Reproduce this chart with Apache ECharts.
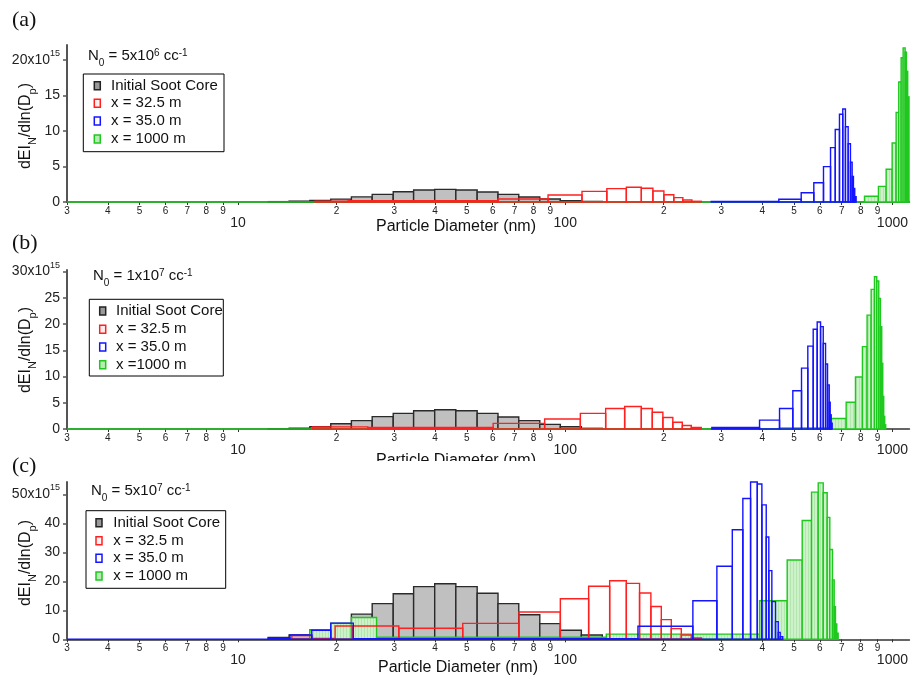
<!DOCTYPE html>
<html><head><meta charset="utf-8">
<script src="https://cdn.jsdelivr.net/npm/echarts@6/dist/echarts.min.js"></script>
<style>html,body{margin:0;padding:0;background:#fff}#c{width:911px;height:676px}</style>
</head><body><div id="c"></div>
<script>
// ---------- tick labels ----------
const minorTickValues = [3,4,5,6,7,8,9,20,30,40,50,60,70,80,90,200,300,400,500,600,700,800,900];
const minorTickLabels = ['3','4','5','6','7','8','9','2','3','4','5','6','7','8','9','2','3','4','5','6','7','8','9'];
const majorTickValues = [10,100,1000];
const majorTickLabels = ['10','100','1000'];
const yTicksA = [0,5,10,15,20];
const yLabelsA = ['0','5','10','15','{n|20x10}{sup|15}'];
const yTicksB = [0,5,10,15,20,25,30];
const yLabelsB = ['0','5','10','15','20','25','{n|30x10}{sup|15}'];
const yTicksC = [0,10,20,30,40,50];
const yLabelsC = ['0','10','20','30','40','{n|50x10}{sup|15}'];
const panelLetters = ['(a)','(b)','(c)'];
const n0Texts = ['{n|N}{sub|0}{n| = 5x10}{sup|6}{n| cc}{sup|-1}',
                 '{n|N}{sub|0}{n| = 1x10}{sup|7}{n| cc}{sup|-1}',
                 '{n|N}{sub|0}{n| = 5x10}{sup|7}{n| cc}{sup|-1}'];
const legendLabels = [
  ['Initial Soot Core','x = 32.5 m','x = 35.0 m','x = 1000 m'],
  ['Initial Soot Core','x = 32.5 m','x = 35.0 m','x =1000 m'],
  ['Initial Soot Core','x = 32.5 m','x = 35.0 m','x = 1000 m']
];
const xName = 'Particle Diameter (nm)';
const yName = '{n|dEI}{sub|N}{n|/dln(D}{sub|p}{n|)}';

// ---------- data: bin edges (nm) and heights (x10^15) ----------
const grayEdges = [12.36,14.32,16.57,19.2,22.2,25.7,29.8,34.4,39.9,46.3,53.8,62.3,72.1,83.6,96.6,112.0,129.8];
const grayA = [0.05,0.12,0.22,0.40,0.72,1.08,1.45,1.69,1.78,1.69,1.41,1.08,0.70,0.42,0.20,0.08];
const grayB = [0.05,0.15,0.44,1.00,1.60,2.35,2.98,3.48,3.67,3.48,2.98,2.28,1.60,0.89,0.44,0.13];
const grayC = [0.6,1.5,3.2,5.5,8.7,12.3,15.7,18.2,19.2,18.2,15.9,12.3,8.5,5.4,3.1,1.5];

const redEdgesA = [17.2,21.7,62.3,88.6,112.5,134,153.7,170.8,185.3,200.2,214.7,228.8,243.8,260.4];
const redA = [0.10,0.19,0.42,0.99,1.50,1.88,2.07,1.93,1.55,1.03,0.61,0.28,0.10];
const redEdgesB = [16.9,24.9,60.2,86.5,111.2,132.9,151.9,170.8,184.5,198.8,213.2,227.9,242.8,260.4];
const redB = [0.40,0.28,1.08,1.90,2.97,3.92,4.30,3.92,3.20,2.20,1.30,0.68,0.30];
const redEdgesC = [14.6,16.8,19.8,22.4,31.0,48.6,72.2,96.6,117.9,136.7,153.7,168.7,182.7,196.6,210.9,226.3,242.8,261.0];
const redC = [1.3,0.3,4.6,4.6,3.8,5.5,9.4,14.0,18.3,20.2,19.3,16.0,11.3,6.8,3.7,1.5,0.5];

const blueEdgesA = [279.4,449.5,526.2,575.1,615.6,646.9,668.7,688.9,705.0,718.4,732.3,744.2,753.1,760.0,767.0,774.6];
const blueA = [0.06,0.38,1.31,2.72,4.98,7.65,10.2,12.35,13.1,10.6,8.2,5.6,3.6,1.9,0.75];
const blueEdgesB = [280.6,392.5,451.8,496.1,527.4,551.3,572.6,588.9,603.0,614.5,624.6,633.4,641.0,645.4,650.0,654.5];
const blueB = [0.3,1.7,3.9,7.3,11.6,15.8,19.0,20.4,19.5,16.3,12.4,8.4,5.1,2.7,1.1];
const blueEdgesC = [3,12.36,14.4,16.8,19.2,22.5,166.8,245.5,290.7,324.0,349.0,368.5,386.3,399.0,411.4,419.0,428.0,439.2,447.7,453.9,462.2];
const blueC = [0,0.45,1.5,3.1,5.6,0.2,4.5,13.3,25.2,37.8,48.6,54.3,53.6,46.4,35.3,23.7,13.0,6.1,2.4,0.9];

const greenEdgesA = [3,821.5,906.3,956.7,998.0,1026.4,1045.5,1063.3,1078.3,1093.6,1103.6,1113.6,1123.9];
const greenA = [0,0.8,2.2,4.6,8.3,12.6,16.9,20.3,21.7,21.1,18.4,14.8];
const greenEdgesB = [3,451.8,642.2,722.1,771.0,809.7,836.7,860.9,881.2,895.5,908.3,919.1,927.6,934.2,940.6,947.3,953.9];
const greenB = [0,0.2,2.0,5.1,9.9,15.7,21.7,26.6,29.0,28.2,24.9,19.5,12.5,6.2,2.4,0.8];
const greenEdgesC = [16.57,19.2,22.2,26.5,133.5,392.5,476.8,529.9,565.9,593.2,614.5,631.9,643.6,655.8,663.7,669.8,676.0,682.6];
const greenC = [3.1,5.5,7.5,0.7,1.8,13.3,27.4,41.0,50.8,54.0,50.6,42.1,31.0,20.5,11.3,5.3,2.1];

// ---------- build ----------
const FONT = '"Liberation Sans", Arial, sans-serif';
const L = Math.log10;
const X_MIN = 3, X_MAX = 1127;
const grids = [
  {left:67, top:45, width:843, height:157},
  {left:67, top:270, width:843, height:159},
  {left:67, top:482, width:843, height:157.3}
];
const yMax = [22.1, 30.3, 54.3];
const yTicks = [yTicksA, yTicksB, yTicksC];
const yLabels = [yLabelsA, yLabelsB, yLabelsC];
const panels = [
  {gray:grayA, redE:redEdgesA, red:redA, blueE:blueEdgesA, blue:blueA, greenE:greenEdgesA, green:greenA},
  {gray:grayB, redE:redEdgesB, red:redB, blueE:blueEdgesB, blue:blueB, greenE:greenEdgesB, green:greenB},
  {gray:grayC, redE:redEdgesC, red:redC, blueE:blueEdgesC, blue:blueC, greenE:greenEdgesC, green:greenC}
];

const allTickVals = minorTickValues.concat(majorTickValues).sort((a,b)=>a-b);
const allTickLog = allTickVals.map(L);
const minorLog = minorTickValues.map(L);
const majorLog = majorTickValues.map(L);
function findLabel(v, vals, labs){
  for (let i=0;i<vals.length;i++) if (Math.abs(L(vals[i])-v)<1e-6) return labs[i];
  return '';
}
function bins(edges, vals){ return vals.map((v,i)=>[L(edges[i]), L(edges[i+1]), v]); }

// light green fill with fine vertical hatch, as in the reference
const hatch = document.createElement('canvas');
hatch.width = 3; hatch.height = 4;
(function(){ const c = hatch.getContext('2d');
  c.fillStyle = '#cdf2c9'; c.fillRect(0,0,3,4);
  c.fillStyle = '#b3e6ae'; c.fillRect(1,0,1,4); })();
const greenFill = {image: hatch, repeat: 'repeat'};

const styles = {
  gray:  {fill:'#c0c0c0', stroke:'#2a2a2a', lineWidth:1.4},
  green: {fill:greenFill, stroke:'#1ec81e', lineWidth:1.4},
  red:   {fill:'none', stroke:'#ff2020', lineWidth:1.4},
  blue:  {fill:'none', stroke:'#1414ff', lineWidth:1.4}
};
function renderBars(st){
  return function(params, api){
    const p0 = api.coord([api.value(0), api.value(2)]);
    const p1 = api.coord([api.value(1), 0]);
    return {type:'rect', shape:{x:p0[0], y:p0[1], width:p1[0]-p0[0], height:p1[1]-p0[1]}, style: st};
  };
}

const xAxes = [], yAxes = [], series = [];
grids.forEach((g, i) => {
  xAxes.push({
    gridIndex:i, type:'value', position:'bottom', min:L(X_MIN), max:L(X_MAX),
    axisLine:{show:true, onZero:false, lineStyle:{color:'#333', width:1.5}},
    splitLine:{show:false},
    axisTick:{show:true, customValues: allTickLog, length:3, lineStyle:{color:'#333', width:1}},
    axisLabel:{customValues: minorLog, formatter: v => findLabel(v, minorTickValues, minorTickLabels),
      fontSize:10, margin:4, color:'#222', fontFamily:FONT}
  });
  xAxes.push({
    gridIndex:i, type:'value', position:'bottom', offset:0, min:L(X_MIN), max:L(X_MAX),
    axisLine:{show:false}, axisTick:{show:false}, splitLine:{show:false},
    axisLabel:{customValues: majorLog, formatter: v => findLabel(v, majorTickValues, majorTickLabels),
      fontSize:14, margin:14, color:'#222', fontFamily:FONT}
  });
  const ticks = yTicks[i], labs = yLabels[i];
  yAxes.push({
    gridIndex:i, type:'value', min:0, max:yMax[i],
    axisLine:{show:true, lineStyle:{color:'#555', width:2}},
    splitLine:{show:false},
    axisTick:{show:true, customValues: ticks, length:4, lineStyle:{color:'#555', width:1.5}},
    axisLabel:{customValues: ticks, margin:7, fontSize:14, color:'#222', fontFamily:FONT,
      formatter: v => { const k = ticks.indexOf(v); return k>=0 ? labs[k] : ''; },
      rich:{n:{fontSize:14, lineHeight:22, verticalAlign:'middle', color:'#222', fontFamily:FONT},
            sup:{fontSize:9, lineHeight:9, verticalAlign:'top', color:'#222', fontFamily:FONT}}}
  });
  const p = panels[i];
  const add = (name, data, st) => series.push({
    type:'custom', name, xAxisIndex:2*i, yAxisIndex:i, data, clip:false,
    encode:{x:[0,1], y:2}, renderItem: renderBars(st), silent:true
  });
  add('Initial Soot Core', bins(grayEdges, p.gray), styles.gray);
  add('x = 1000 m', bins(p.greenE, p.green), styles.green);
  add('x = 32.5 m', bins(p.redE, p.red), styles.red);
  add('x = 35.0 m', bins(p.blueE, p.blue), styles.blue);
});

// ---------- graphic texts & legends ----------
const graphic = [];
const letterY = [20, 243, 466];
const n0Pos = [[88,58],[93,278],[91,493]];
const yNamePos = [[28,126],[28,350],[28,563]];
const xNamePos = [[456,227],[456,461],[458,668]];
const legendBoxes = [
  {box:[83.3,74,140.7,77.7], rows:[85.7,103.3,121,139], iconX:97.3, textX:111},
  {box:[89.3,299.3,134,76.7], rows:[311,329.3,347,364.7], iconX:102.7, textX:116},
  {box:[86,510.7,139.7,77.6], rows:[522.7,540.7,558.3,576], iconX:99, textX:113.3}
];
const iconStyles = [
  {fill:'#9a9a9a', stroke:'#222', lineWidth:1.5},
  {fill:'#fff0f0', stroke:'#ff2020', lineWidth:1.5},
  {fill:'#ffffff', stroke:'#1414ff', lineWidth:1.5},
  {fill:'#b8ecb4', stroke:'#1ec81e', lineWidth:1.5}
];
function txt(x, y, text, extra){
  return {type:'text', x, y, z:60, silent:true,
    style:Object.assign({text, fill:'#111', fontFamily:FONT, fontSize:15,
      align:'left', verticalAlign:'middle', textAlign:'left', textVerticalAlign:'middle'}, extra || {})};
}
const richSS = {
  n:{fontSize:15, lineHeight:20, verticalAlign:'top', fill:'#111', color:'#111', fontFamily:FONT},
  sub:{fontSize:10, lineHeight:10, verticalAlign:'bottom', fill:'#111', color:'#111', fontFamily:FONT},
  sup:{fontSize:10, lineHeight:10, verticalAlign:'top', fill:'#111', color:'#111', fontFamily:FONT}
};
const richY = {
  n:{fontSize:16, lineHeight:21, verticalAlign:'top', fill:'#111', color:'#111', fontFamily:FONT},
  sub:{fontSize:11, lineHeight:11, verticalAlign:'bottom', fill:'#111', color:'#111', fontFamily:FONT}
};
for (let i=0;i<3;i++){
  graphic.push(txt(12, letterY[i], panelLetters[i], {fontFamily:'"Liberation Serif", "Times New Roman", serif', fontSize:22}));
  graphic.push(txt(n0Pos[i][0], n0Pos[i][1], n0Texts[i], {rich:richSS}));
  const yn = txt(yNamePos[i][0], yNamePos[i][1], yName, {rich:richY, align:'center', textAlign:'center'});
  yn.rotation = Math.PI/2;
  graphic.push(yn);
  graphic.push(txt(xNamePos[i][0], xNamePos[i][1], xName, {fontSize:16, align:'center', textAlign:'center'}));
  const lb = legendBoxes[i];
  graphic.push({type:'rect', z:55, silent:true, shape:{x:lb.box[0], y:lb.box[1], width:lb.box[2], height:lb.box[3]},
    style:{fill:'#fff', stroke:'#000', lineWidth:1}});
  legendLabels[i].forEach((t,k)=>{
    graphic.push({type:'rect', z:58, silent:true, shape:{x:lb.iconX-3, y:lb.rows[k]-4, width:6, height:8}, style:iconStyles[k]});
    graphic.push(txt(lb.textX, lb.rows[k], t, {fontSize:15}));
  });
}
// panel (c) figure overlaps the lower part of panel (b)'s axis title in the reference
graphic.push({type:'rect', z:70, silent:true, shape:{x:360, y:461, width:200, height:17}, style:{fill:'#fff'}});

const chart = echarts.init(document.getElementById('c'), null, {renderer:'canvas'});
chart.setOption({
  animation:false,
  backgroundColor:'#fff',
  textStyle:{fontFamily:FONT},
  grid: grids.map(g => Object.assign({containLabel:false}, g)),
  xAxis: xAxes, yAxis: yAxes, series, graphic
});
</script></body></html>
